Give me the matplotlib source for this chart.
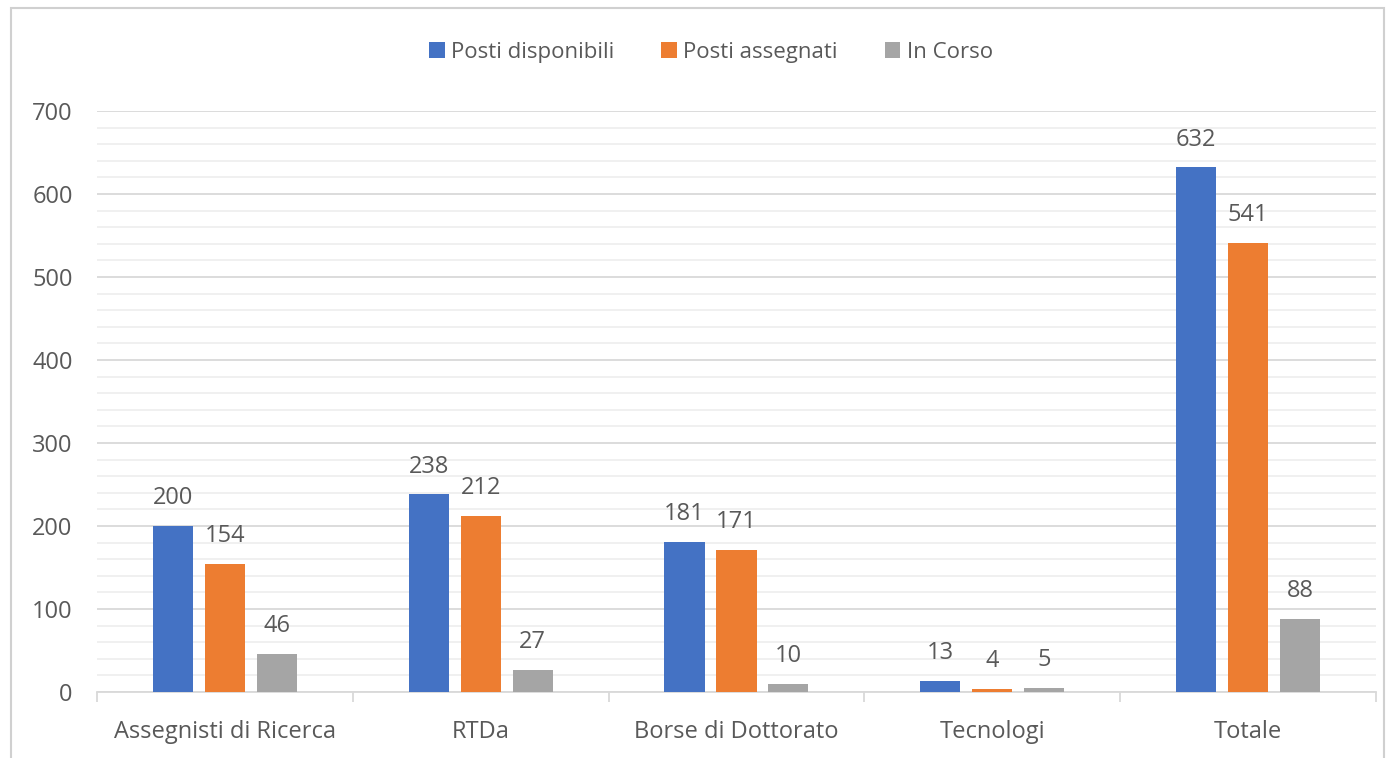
import numpy as np
import matplotlib.pyplot as plt
from matplotlib.patches import Rectangle

categorie = ["Assegnisti di Ricerca", "RTDa", "Borse di Dottorato", "Tecnologi", "Totale"]
posti_disponibili = [200, 238, 181, 13, 632]
posti_assegnati = [154, 212, 171, 4, 541]
in_corso = [46, 27, 10, 5, 88]

serie = [
    ("Posti disponibili", posti_disponibili, "#4472C4"),
    ("Posti assegnati", posti_assegnati, "#ED7D31"),
    ("In Corso", in_corso, "#A5A5A5"),
]

plt.rcParams['font.family'] = ['Open Sans', 'DejaVu Sans']
testo = "#595959"
fs = 17

fig = plt.figure(figsize=(13.94, 7.58), dpi=100)
ax = fig.add_axes([0.0696, 0.087, 0.9174, 0.7666])

x = np.arange(len(categorie))
larghezza = 0.157
passo = 0.203

for i, (nome, valori, colore) in enumerate(serie):
    pos = x + (i - 1) * passo
    barre = ax.bar(pos, valori, width=larghezza, color=colore, label=nome, zorder=3)
    # etichette dei valori sopra le barre
    for b, v in zip(barre, valori):
        ax.text(b.get_x() + b.get_width() / 2, v + 19, str(v),
                ha='center', va='bottom', fontsize=fs, color=testo)

ax.set_xlim(-0.5, len(categorie) - 0.5)
ax.set_ylim(0, 700)
ax.set_yticks(range(0, 701, 100))
ax.set_yticks(range(0, 701, 20), minor=True)
ax.grid(axis='y', which='major', color='#d9d9d9', linewidth=1.3, zorder=0)
ax.grid(axis='y', which='minor', color='#ececec', linewidth=1.1, zorder=0)
ax.tick_params(axis='y', which='both', length=0, labelsize=fs, labelcolor=testo, pad=17.5)

ax.set_xticks(x)
ax.set_xticklabels(categorie)
ax.tick_params(axis='x', which='major', length=0, labelsize=fs, labelcolor=testo, pad=20)
# tacche tra le categorie
ax.set_xticks(np.arange(-0.5, len(categorie)), minor=True)
ax.tick_params(axis='x', which='minor', length=7, color='#d9d9d9', width=1.3)

for s in ['top', 'right', 'left']:
    ax.spines[s].set_visible(False)
ax.spines['bottom'].set_color('#d9d9d9')
ax.spines['bottom'].set_linewidth(1.3)

# legenda in alto
fig.legend(loc='center', bbox_to_anchor=(0.51, 0.931), ncol=3, frameon=False,
           fontsize=16, labelcolor=testo, handlelength=0.7, handleheight=0.7,
           handletextpad=0.3, columnspacing=2.1)

# cornice del grafico
fig.patches.append(Rectangle((0.008, -0.01), 0.985, 1.0, transform=fig.transFigure,
                             fill=False, edgecolor='#d0d0d0', linewidth=1.5))

fig.savefig('out.png', dpi=100, facecolor='white')
